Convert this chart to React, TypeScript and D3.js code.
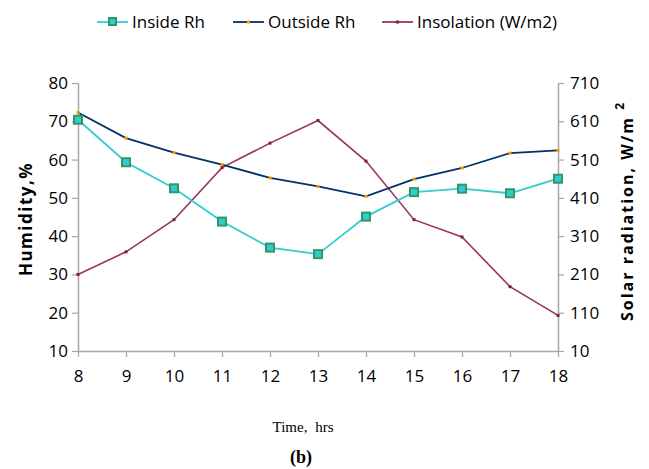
import { useEffect, useRef } from "react";
import * as d3 from "d3";

const hours = [8, 9, 10, 11, 12, 13, 14, 15, 16, 17, 18];
const insideRh = [70.4, 59.3, 52.5, 43.8, 37.0, 35.3, 45.1, 51.5, 52.4, 51.2, 55.0];
const outsideRh = [72.3, 65.6, 61.8, 58.7, 55.2, 53.0, 50.4, 54.9, 57.8, 61.7, 62.4];
const insolation = [210, 269, 353, 489, 553, 612, 506, 353, 308, 178, 103];
const leftTicks = [10, 20, 30, 40, 50, 60, 70, 80];
const rightTicks = [10, 110, 210, 310, 410, 510, 610, 710];

const App = () => {
  const ref = useRef<SVGSVGElement | null>(null);

  useEffect(() => {
    if (!ref.current) return;
    const width = 649;
    const height = 469;
    const svg = d3.select(ref.current);
    svg.selectAll("*").remove();
    svg.attr("width", width).attr("height", height);

    const font = "Open Sans, sans-serif";
    const axisColor = "#a6a6a6";

    const x = d3.scaleLinear().domain([8, 18]).range([78, 558]);
    const yL = d3.scaleLinear().domain([10, 80]).range([351, 83]);
    const yR = d3.scaleLinear().domain([10, 710]).range([351, 83]);

    const styleAxis = (g: any) => {
      g.select(".domain").attr("stroke", axisColor).attr("stroke-width", 1.5);
      g.selectAll(".tick line").attr("stroke", axisColor).attr("stroke-width", 1.2);
      g.selectAll("text")
        .attr("font-family", font)
        .attr("font-size", 17)
        .attr("fill", "#000");
    };

    svg
      .append("g")
      .attr("transform", `translate(0,${yL(10)})`)
      .call(d3.axisBottom(x).tickValues(hours).tickFormat(d3.format("d")).tickSize(6).tickSizeOuter(0).tickPadding(13))
      .call(styleAxis);

    svg
      .append("g")
      .attr("transform", `translate(${x(8)},0)`)
      .call(d3.axisLeft(yL).tickValues(leftTicks).tickSize(6).tickSizeOuter(0).tickPadding(4))
      .call(styleAxis);

    svg
      .append("g")
      .attr("transform", `translate(${x(18)},0)`)
      .call(d3.axisRight(yR).tickValues(rightTicks).tickSize(6).tickSizeOuter(0).tickPadding(6))
      .call(styleAxis);

    const lineL = d3
      .line<number>()
      .x((_, i) => x(hours[i]))
      .y((d) => yL(d));
    const lineR = d3
      .line<number>()
      .x((_, i) => x(hours[i]))
      .y((d) => yR(d));

    // insolation
    svg
      .append("path")
      .datum(insolation)
      .attr("d", lineR)
      .attr("fill", "none")
      .attr("stroke", "#993366")
      .attr("stroke-width", 1.6);
    svg
      .append("g")
      .selectAll("rect")
      .data(insolation)
      .join("rect")
      .attr("x", (_, i) => x(hours[i]) - 1.5)
      .attr("y", (d) => yR(d) - 1.5)
      .attr("width", 3)
      .attr("height", 3)
      .attr("fill", "#7a1f50");

    // outside
    svg
      .append("path")
      .datum(outsideRh)
      .attr("d", lineL)
      .attr("fill", "none")
      .attr("stroke", "#003366")
      .attr("stroke-width", 1.8);
    svg
      .append("g")
      .selectAll("rect")
      .data(outsideRh)
      .join("rect")
      .attr("x", (_, i) => x(hours[i]) - 1.5)
      .attr("y", (d) => yL(d) - 1.5)
      .attr("width", 3)
      .attr("height", 3)
      .attr("fill", "#ff9900");

    // inside
    svg
      .append("path")
      .datum(insideRh)
      .attr("d", lineL)
      .attr("fill", "none")
      .attr("stroke", "#33cccc")
      .attr("stroke-width", 1.8);
    svg
      .append("g")
      .selectAll("rect")
      .data(insideRh)
      .join("rect")
      .attr("x", (_, i) => x(hours[i]) - 4)
      .attr("y", (d) => yL(d) - 4)
      .attr("width", 8)
      .attr("height", 8)
      .attr("fill", "#33cccc")
      .attr("stroke", "#2e9966")
      .attr("stroke-width", 2);

    // legend
    const legend = [
      { name: "Inside Rh", color: "#33cccc", x0: 97, marker: "sq" },
      { name: "Outside Rh", color: "#003366", x0: 233, marker: "dot" },
      { name: "Insolation (W/m2)", color: "#993366", x0: 382, marker: "dot2" },
    ];
    const lg = svg.append("g");
    legend.forEach((l) => {
      lg.append("line")
        .attr("x1", l.x0)
        .attr("x2", l.x0 + 31)
        .attr("y1", 22)
        .attr("y2", 22)
        .attr("stroke", l.color)
        .attr("stroke-width", 1.8);
      if (l.marker === "sq") {
        lg.append("rect")
          .attr("x", l.x0 + 12)
          .attr("y", 18)
          .attr("width", 7)
          .attr("height", 7)
          .attr("fill", "#33cccc")
          .attr("stroke", "#2e9966")
          .attr("stroke-width", 2);
      } else {
        lg.append("rect")
          .attr("x", l.x0 + 14)
          .attr("y", 20.5)
          .attr("width", 3)
          .attr("height", 3)
          .attr("fill", l.marker === "dot" ? "#ff9900" : "#7a1f50");
      }
      lg.append("text")
        .attr("x", l.x0 + 35)
        .attr("y", 28)
        .attr("font-family", font)
        .attr("font-size", 17)
        .text(l.name);
    });

    // axis titles
    svg
      .append("text")
      .attr("transform", `translate(32,${(yL(10) + yL(80)) / 2 + 2}) rotate(-90)`)
      .attr("text-anchor", "middle")
      .attr("font-family", font)
      .attr("font-size", 17)
      .attr("font-weight", "bold")
      .attr("letter-spacing", 1.5)
      .text("Humidity,%");

    const rt = svg
      .append("text")
      .attr("transform", `translate(633,${(yR(10) + yR(710)) / 2 - 6}) rotate(-90)`)
      .attr("text-anchor", "middle")
      .attr("font-family", font)
      .attr("font-size", 16)
      .attr("font-weight", "bold")
      .attr("letter-spacing", 2);
    rt.append("tspan").text("Solar radiation, W/m ");
    rt.append("tspan").attr("dy", -9).attr("font-size", 12).text("2");

    svg
      .append("text")
      .attr("x", 303)
      .attr("y", 432)
      .attr("text-anchor", "middle")
      .attr("font-family", "Liberation Serif, serif")
      .attr("font-size", 15)
      .attr("word-spacing", 4)
      .text("Time, hrs");

    svg
      .append("text")
      .attr("x", 301)
      .attr("y", 463)
      .attr("text-anchor", "middle")
      .attr("font-family", "Liberation Serif, serif")
      .attr("font-size", 18)
      .attr("font-weight", "bold")
      .text("(b)");
  }, []);

  return (
    <div style={{ position: "absolute", left: 0, top: 0 }}>
      <svg ref={ref}></svg>
    </div>
  );
};

export default App;
